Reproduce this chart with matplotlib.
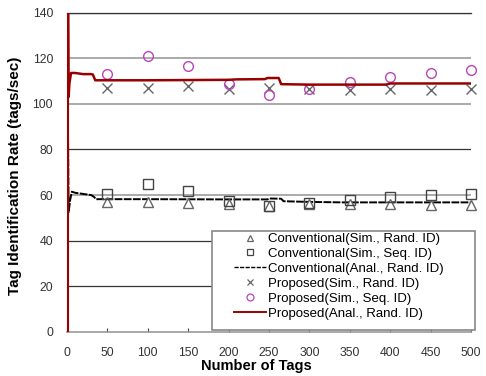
"""Tag identification rate vs number of tags: conventional vs proposed."""
import matplotlib.pyplot as plt
from matplotlib.patches import Rectangle
from matplotlib.lines import Line2D

plt.rcParams['font.family'] = ['Liberation Sans', 'DejaVu Sans']

# simulated points
sim_tags = [50, 100, 150, 200, 250, 300, 350, 400, 450, 500]
conv_sim_rand = [56.8, 56.9, 56.4, 56.2, 55.2, 56.0, 56.0, 56.0, 55.8, 55.8]
conv_sim_seq = [60.5, 64.8, 62.0, 57.5, 55.4, 56.6, 58.0, 59.0, 60.0, 60.6]
prop_sim_rand = [107.1, 107.1, 107.8, 106.4, 107.0, 106.3, 106.2, 106.3, 106.1, 106.3]
prop_sim_seq = [112.9, 121.1, 116.5, 108.5, 104.0, 106.6, 109.5, 111.7, 113.3, 114.6]

# analytical curves
conv_anal_x = [1, 1, 2, 4, 6, 10, 20, 30, 34, 36, 100, 200, 248, 250, 265, 268, 300, 340, 500]
conv_anal_y = [0, 100, 52.5, 58.0, 61.5, 61.0, 60.5, 60.0, 59.0, 58.2, 58.2, 58.1, 58.1, 58.5, 58.4, 57.3, 57.0, 56.8, 56.8]
prop_anal_x = [1, 1, 2, 3, 5, 10, 20, 30, 32, 35, 100, 200, 210, 245, 248, 262, 265, 300, 395, 400, 500]
prop_anal_y = [0, 180, 103, 109, 113.5, 113.5, 113.0, 113.0, 112.8, 110.3, 110.3, 110.5, 110.7, 110.8, 111.3, 111.3, 108.6, 108.4, 108.4, 108.9, 108.9]

labels = ['Conventional(Sim., Rand. ID)', 'Conventional(Sim., Seq. ID)',
          'Conventional(Anal., Rand. ID)', 'Proposed(Sim., Rand. ID)',
          'Proposed(Sim., Seq. ID)', 'Proposed(Anal., Rand. ID)']

W, H = 486, 376
fig = plt.figure(figsize=(W / 100, H / 100), dpi=100)
ax = fig.add_axes([67 / W, 1 - 332 / H, (471 - 67) / W, (332 - 12.5) / H])

grey = '#666666'
red = '#990000'
mag = '#bb44bb'

ax.plot(sim_tags, conv_sim_rand, ls='none', marker='^', ms=7.5, mfc='white', mec=grey, mew=1, clip_on=False, zorder=4)
ax.plot(sim_tags, conv_sim_seq, ls='none', marker='s', ms=7, mfc='none', mec='#444444', mew=1, clip_on=False, zorder=4)
ax.plot(conv_anal_x, conv_anal_y, color='black', lw=1.4, ls=(0, (4, 0.7)), zorder=3)
ax.plot(sim_tags, prop_sim_rand, ls='none', marker='x', ms=7.5, mec=grey, mew=1, clip_on=False, zorder=4)
ax.plot(sim_tags, prop_sim_seq, ls='none', marker='o', ms=7, mfc='none', mec=mag, mew=1, clip_on=False, zorder=4)
ax.plot(prop_anal_x, prop_anal_y, color=red, lw=1.8, zorder=5)

ax.set_xlim(0, 500)
ax.set_ylim(0, 140)
ax.set_xticks(range(0, 501, 50))
ax.set_yticks(range(0, 141, 20))
ax.yaxis.grid(True, color='#333333', lw=0.9)
ax.set_axisbelow(True)
for line, val in zip(ax.get_ygridlines(), range(0, 141, 20)):
    if val in (60, 100, 120):
        line.set_color('#aaaaaa')
        line.set_linewidth(1.4)
    if val == 0:
        line.set_visible(False)

ax.spines['right'].set_visible(False)
ax.spines['top'].set_color('#333333')
ax.spines['top'].set_linewidth(0.9)
ax.spines['bottom'].set_color('#999999')
ax.spines['left'].set_color('#999999')
ax.spines['bottom'].set_linewidth(1.2)
ax.tick_params(axis='x', direction='in', length=3, color='#444444', pad=11, labelsize=8.8, labelcolor='#333333')
ax.tick_params(axis='y', length=0, pad=10, labelsize=8.8, labelcolor='#333333')

ax.set_xlabel('Number of Tags', fontsize=10.5, fontweight='bold')
ax.xaxis.set_label_coords(0.468, -0.086)
ax.set_ylabel('Tag Identification Rate (tags/sec)', fontsize=11, fontweight='bold')
ax.yaxis.set_label_coords(-0.112, 0.49)

handles = [
    Line2D([], [], ls='none', marker='^', ms=5, mfc='white', mec=grey, mew=0.9),
    Line2D([], [], ls='none', marker='s', ms=5, mfc='none', mec='#444444', mew=0.9),
    Line2D([], [], color='black', lw=1, ls=(0, (3, 1))),
    Line2D([], [], ls='none', marker='x', ms=5, mec=grey, mew=0.9),
    Line2D([], [], ls='none', marker='o', ms=5, mfc='none', mec=mag, mew=0.9),
    Line2D([], [], color=red, lw=1.4),
]
fig.patches.append(Rectangle((212 / W, 1 - 329.5 / H), (475 - 212) / W, (329.5 - 231) / H,
                             transform=fig.transFigure, facecolor='white', edgecolor='#888888',
                             lw=1.2, zorder=10))
leg = fig.legend(handles, labels, loc='upper left', bbox_to_anchor=(234 / W, 1 - 233 / H),
                 frameon=False, fontsize=9.5, borderpad=0, borderaxespad=0,
                 handlelength=2.4, handletextpad=0.15, labelspacing=0.2)
leg.set_zorder(11)

fig.savefig('out.png', dpi=100)
